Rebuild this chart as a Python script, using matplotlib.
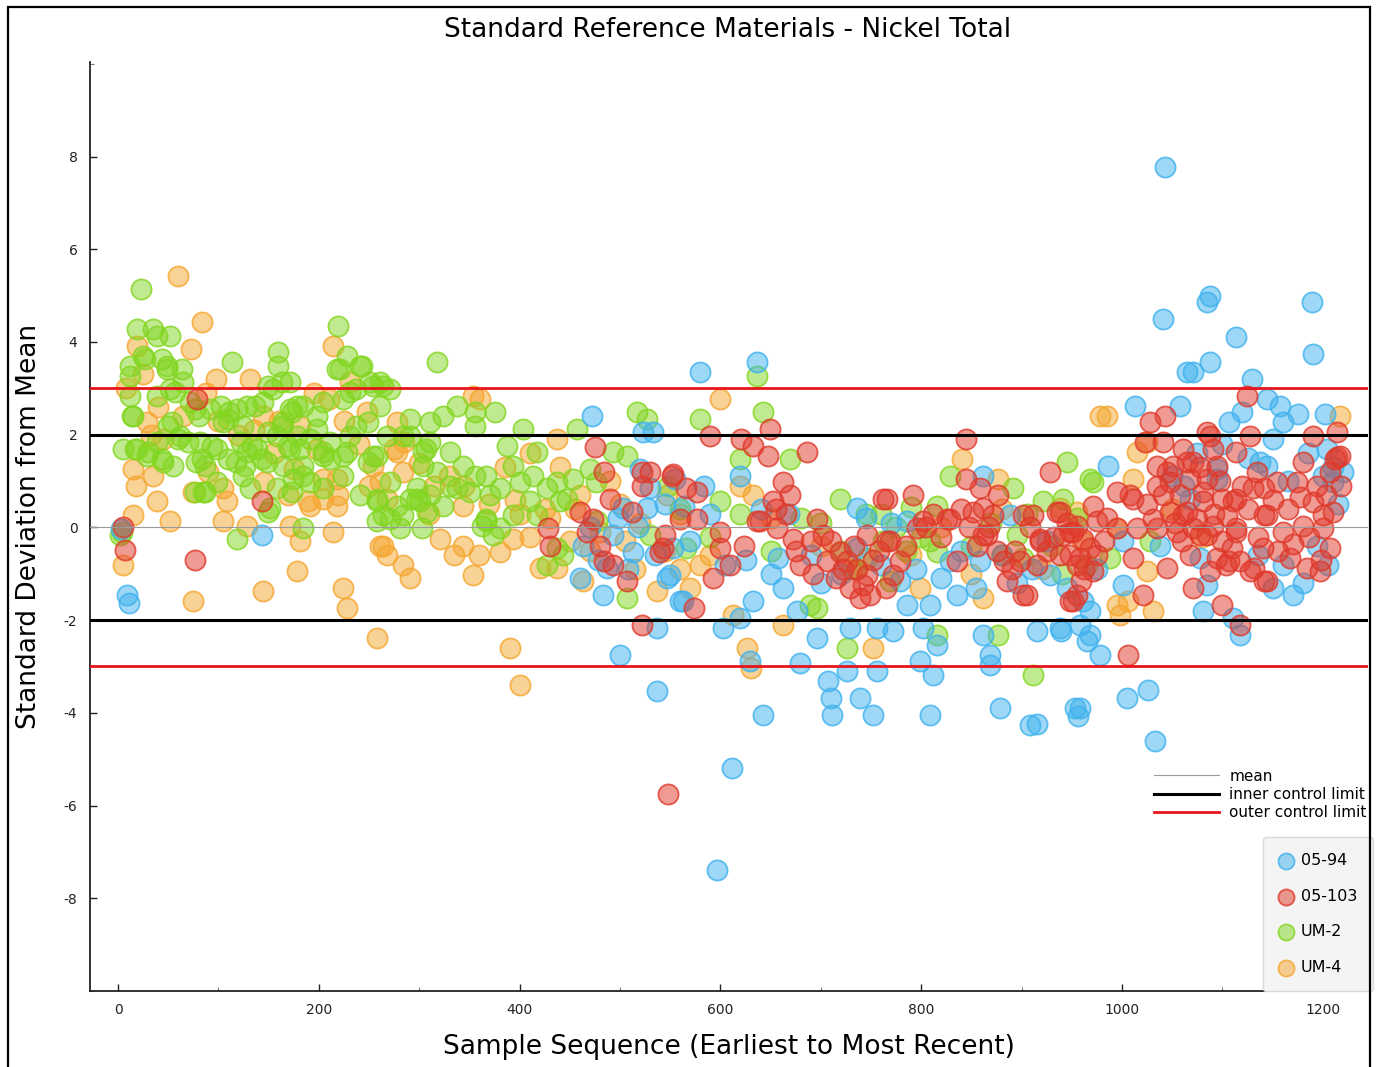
import numpy as np
import matplotlib
matplotlib.use("Agg")
import matplotlib.pyplot as plt
from matplotlib.patches import Rectangle
from matplotlib.colors import to_rgba

plt.rcParams["axes.unicode_minus"] = False

# ---------------------------------------------------------------------------
# Data: (sample sequence, standard deviations from mean) for each reference
# ---------------------------------------------------------------------------
series_names = ["05-94", "05-103", "UM-2", "UM-4"]

um2_points = [
    (23, 5.14), (19, 4.28), (35, 4.28), (52, 4.13), (12, 3.48), (27, 3.63), (44, 3.63), (49, 3.42),
    (64, 3.42), (12, 2.84), (39, 2.84), (57, 2.92), (14, 2.41), (50, 2.19), (17, 1.70), (30, 1.63),
    (44, 1.48), (60, 1.91), (70, 1.85), (84, 1.48), (87, 0.77), (77, 0.77), (114, 3.57), (159, 3.78),
    (159, 3.48), (163, 3.14), (149, 3.05), (119, 2.56), (136, 2.62), (110, 2.34), (124, 2.19),
    (133, 1.76), (149, 2.06), (163, 2.19), (173, 2.49), (169, 1.76), (94, 1.76), (110, 1.48),
    (126, 1.33), (143, 1.48), (124, 1.12), (87, 1.33), (149, 0.34), (119, -0.24), (4, -0.09),
    (173, 0.77), (103, 2.62), (77, 2.56),
    (219, 4.34), (228, 3.70), (218, 3.42), (241, 3.48), (318, 3.57), (231, 2.92), (251, 3.14),
    (264, 3.05), (178, 2.62), (171, 3.14), (198, 2.41), (237, 2.19), (291, 2.34), (324, 2.41),
    (338, 2.62), (356, 2.49), (356, 2.19), (181, 1.70), (204, 1.63), (228, 1.63), (258, 1.55),
    (184, 1.12), (241, 0.69), (311, 1.85), (331, 1.63), (344, 1.33), (356, 1.12), (298, 0.62),
    (311, 0.69), (271, 0.19), (284, 0.26), (258, 0.13), (184, -0.02), (363, 0.04), (338, 0.84),
    (375, 2.49), (403, 2.13), (387, 1.76), (417, 1.63), (457, 2.13), (517, 2.49), (527, 2.34),
    (367, 1.12), (380, 0.84), (400, 0.99), (410, 0.56), (437, 0.99), (447, 0.62), (470, 1.27),
    (493, 1.63), (507, 1.55), (367, 0.13), (380, -0.02), (427, -0.82), (507, -1.53), (437, -0.45),
    (477, 0.13), (530, -0.17),
    (636, 3.27), (580, 2.34), (642, 2.49), (620, 1.48), (566, -0.45), (600, 0.56),
    (669, 1.48), (719, 0.62), (696, -1.74), (726, -2.60), (816, 0.47), (809, -0.30), (829, 1.12),
    (891, 0.84), (945, 1.42), (968, 1.05), (921, 0.56), (876, -2.32), (911, -3.18), (762, -0.30),
    (746, -0.67), (769, -1.16), (816, -0.52), (895, -0.17), (901, -0.67), (689, -1.68), (816, -2.32),
    (971, 0.99), (941, 0.62), (988, -0.67), (1028, -0.30),
    (54, 2.28), (81, 2.41), (111, 2.49), (311, 2.28), (19, 1.70), (29, 1.55), (62, 1.98), (82, 1.85),
    (99, 1.70), (122, 1.85), (138, 1.70), (158, 1.98), (178, 1.98), (198, 2.13), (211, 1.85),
    (231, 1.98), (249, 2.28), (268, 1.98), (291, 1.98), (307, 1.70), (78, 1.42), (118, 1.42),
    (128, 1.63), (164, 1.33), (184, 1.33), (204, 1.55), (224, 1.55), (174, 1.05), (191, 0.99),
    (85, 0.77), (151, 0.41), (254, 1.55), (264, 0.26), (301, 0.56), (281, -0.02), (303, -0.02),
    (2, -0.17), (128, 2.62), (154, 2.99), (171, 2.56), (237, 2.99), (254, 3.05), (221, 3.42),
    (243, 3.48), (261, 3.14), (52, 2.99), (15, 2.41), (224, 2.77), (45, 1.42),
    (760, 0.30), (775, 0.00), (790, 0.45), (800, -0.20), (785, -0.50), (850, -0.40), (870, 0.10),
    (880, -0.60), (905, 0.30), (930, -0.40), (955, 0.20), (965, -0.80), (940, -1.00), (700, 0.10),
    (720, -0.50), (735, -0.90), (745, 0.30), (548, 0.90), (560, 0.40), (590, -0.20), (620, 0.30),
    (650, -0.50), (680, 0.20),
    (5, 1.70), (12, 3.27), (39, 4.13), (25, 3.70), (49, 3.48), (65, 3.14), (72, 2.71), (92, 2.56),
    (105, 2.28), (144, 2.71), (164, 2.28), (184, 2.62), (204, 2.71), (261, 2.62), (271, 2.99),
    (284, 1.98), (304, 1.33), (298, 0.84), (271, 0.99), (258, 0.56), (224, 1.12), (204, 0.84),
    (158, 0.84), (131, 0.84), (99, 0.99), (55, 1.33), (39, 1.85), (171, 1.70), (148, 1.42),
    (191, 1.91), (211, 1.48), (249, 1.42), (304, 1.63), (318, 1.20), (331, 0.90), (351, 0.77),
    (367, 0.19), (258, 0.62), (278, 0.47), (291, 0.62), (308, 0.34), (324, 0.47),
    (371, 0.69), (393, 1.33), (413, 1.12), (427, 0.84), (440, 0.56), (453, 1.05), (476, 0.99),
    (417, 0.26), (393, 0.26), (373, -0.17), (443, -0.60),
]

um4_points = [
    (60, 5.42), (84, 4.43), (19, 3.91), (73, 3.85), (214, 3.91), (98, 3.20), (131, 3.20), (29, 2.28),
    (144, 2.41), (210, 2.77), (248, 2.49), (278, 2.28), (275, 1.70), (284, 1.20), (254, 1.33),
    (15, 1.27), (35, 1.12), (18, 0.90), (39, 0.56), (15, 0.26), (52, 0.13), (75, 0.77), (105, 0.84),
    (109, 0.56), (105, 0.13), (145, 0.99), (169, 0.69), (189, 0.56), (204, 1.05), (219, 0.69),
    (214, -0.09), (181, -0.30), (5, -0.82), (75, -1.59), (144, -1.38), (178, -0.95), (224, -1.31),
    (228, -1.74), (258, -2.39), (264, -0.39), (268, -0.60), (284, -0.82), (291, -1.10), (128, 0.04),
    (261, 0.99), (198, 1.70),
    (231, 3.14), (218, 1.05), (204, 0.62), (191, 0.47), (218, 0.47), (268, 0.62), (171, 0.04),
    (261, -0.39), (321, -0.24), (344, -0.39), (360, -0.60), (354, -1.03), (344, 0.47), (181, 2.19),
    (354, 2.84), (278, 1.63),
    (361, 2.77), (437, 1.91), (393, -0.24), (380, -0.52), (450, -0.30), (420, -0.88), (437, -0.88),
    (463, -1.16), (537, -1.38), (390, -2.60), (400, -3.40), (547, 0.69),
    (600, 2.77), (570, -1.31), (580, -0.82), (613, -1.89), (626, -2.60), (630, -3.03), (632, 0.69),
    (841, 1.48), (876, 1.05), (662, -2.11), (752, -2.60), (799, -1.31), (862, -1.53), (978, 2.41),
    (938, 0.41),
    (985, 2.41), (1217, 2.41), (1015, 1.63), (1025, 1.85), (1011, 1.05), (995, -1.68), (998, -1.89),
    (1031, -1.81), (955, 0.34), (1006, -1.59), (1025, -0.95), (995, -0.02),
    (33, 2.00), (45, 1.90), (90, 1.20), (120, 2.00), (160, 2.30), (300, 1.40), (315, 0.90),
    (330, 1.10), (400, 0.30), (410, -0.20), (430, 0.20), (455, 0.40), (480, -0.10), (500, 0.50),
    (520, 0.10), (560, 0.30), (590, -0.60), (620, 0.90), (650, 0.20), (700, -0.40), (730, -0.90),
    (790, -0.60), (820, 0.00), (850, -1.00), (880, 0.40), (920, -0.90), (960, -0.30), (1050, 0.40),
    (1080, -0.20),
    (8, 3.00), (25, 3.30), (40, 2.60), (65, 2.40), (88, 2.90), (100, 2.30), (135, 2.10), (155, 1.60),
    (175, 1.25), (195, 2.90), (225, 2.30), (240, 1.80), (250, 0.90), (285, 1.85), (310, 0.30),
    (335, -0.60), (345, 0.90), (370, 0.50), (385, 1.30), (395, 0.60), (410, 1.60), (425, 0.40),
    (440, 1.30), (460, 0.70), (470, -0.50), (490, 1.00), (505, -0.30), (515, -0.90), (545, -0.50),
    (560, -0.90),
]

srm0594_points = [
    (9, -1.46), (11, -1.63), (143, -0.17), (3, -0.04),
    (472, 2.41), (523, 2.06), (533, 2.06), (503, 0.41), (527, 0.41), (493, -0.17), (463, -0.39),
    (513, -0.52), (460, -1.10), (483, -1.46), (487, -0.88), (547, -1.10), (537, -2.17), (500, -2.75),
    (537, -3.53), (560, -1.59),
    (580, 3.35), (636, 3.57), (620, 1.12), (584, 0.90), (564, 0.47), (553, -0.45), (550, -1.03),
    (563, -1.59), (632, -1.59), (603, -2.17), (620, -1.96), (629, -2.88), (642, -4.04), (612, -5.18),
    (597, -7.40), (530, 0.84), (520, 1.27), (555, 1.05),
    (736, 0.41), (657, -0.67), (662, -1.31), (676, -1.81), (696, -2.39), (679, -2.92), (707, -3.31),
    (710, -3.68), (711, -4.04), (726, -3.10), (729, -2.17), (739, -3.68), (756, -3.10), (752, -4.04),
    (756, -2.17), (772, -2.24), (786, -1.68), (809, -1.68), (802, -2.17), (816, -2.54), (799, -2.88),
    (812, -3.18), (809, -4.04), (836, -1.46), (829, -0.73), (859, -0.73), (855, -1.31), (862, -2.32),
    (869, -2.75), (869, -2.97), (878, -3.89), (915, -2.24), (939, -2.24), (958, -2.11), (965, -2.45),
    (958, -3.89), (908, -4.26), (915, -4.24), (953, -3.90), (956, -4.06), (928, -1.03), (961, -1.59),
    (862, 1.12), (786, 0.13), (736, -0.45), (779, -1.16), (888, 0.26),
    (1043, 7.78), (1041, 4.49), (1088, 4.99), (1085, 4.86), (1189, 4.86), (1114, 4.11), (1190, 3.74),
    (1088, 3.57), (1065, 3.35), (1071, 3.35), (1129, 3.20), (1144, 2.77), (1157, 2.62), (1175, 2.45),
    (1202, 2.45), (1013, 2.62), (1058, 2.62), (1107, 2.28), (1120, 2.49), (1160, 2.28), (986, 1.33),
    (1001, -0.30), (1038, -0.39), (1078, -0.67), (1170, -1.46), (1081, -1.81), (1111, -1.96),
    (1118, -2.32), (938, -2.17), (1144, 1.33), (1204, 1.70), (1210, 0.99), (1095, 1.27), (1068, 0.62),
    (1160, -0.82), (1194, -0.39), (1085, -1.24), (1001, -1.24), (968, -1.81), (968, -2.32),
    (978, -2.75), (1137, 1.42), (1095, 1.05), (1033, -4.60), (1026, -3.50), (1005, -3.68),
    (1210, 1.30), (1215, 0.50),
    (470, 0.00), (478, -0.70), (498, 0.20), (508, -0.90), (518, 0.00), (535, -0.60), (545, 0.50),
    (570, -0.30), (590, 0.30), (605, -0.80), (625, -0.70), (640, 0.40), (650, -1.00), (668, 0.30),
    (690, -0.60), (700, -1.20), (720, -1.00), (745, 0.20), (760, -0.80), (770, 0.10), (795, -0.90),
    (820, -1.10), (840, -0.50), (880, -0.60), (895, -1.20), (910, -0.90), (925, -0.30), (945, -1.30),
    (975, -0.90), (1050, 1.10), (1062, 0.90), (1075, 1.60), (1100, 1.80), (1125, 1.50), (1150, 1.90),
    (1165, 1.00), (1185, 1.60), (1200, 1.10), (1220, 1.20), (1135, -0.60), (1150, -1.30),
    (1180, -1.20), (1205, -0.80),
]

srm05103_points = [
    (79, 2.77), (5, 0.02), (7, -0.49), (77, -0.71), (143, 0.56),
    (475, 1.74), (484, 1.20), (490, 0.62), (512, 0.34), (460, 0.34), (473, 0.19), (428, -0.02),
    (430, -0.39), (467, -0.09), (480, -0.39), (484, -0.73), (493, -0.82), (507, -1.16), (522, 1.20),
    (530, 1.20), (522, 0.90), (545, -0.17), (540, -0.52), (552, 1.12), (522, -2.11), (548, -5.76),
    (590, 1.98), (621, 1.91), (647, 1.55), (553, 1.16), (566, 0.84), (577, 0.77), (543, -0.45),
    (560, 0.19), (577, 0.19), (600, -0.09), (600, -0.45), (593, -1.10), (610, -0.82), (623, -0.39),
    (636, 0.13), (632, 1.76), (574, -1.74),
    (649, 2.13), (686, 1.63), (662, 0.99), (669, 0.69), (652, 0.56), (639, 0.13), (656, -0.02),
    (672, -0.24), (679, -0.82), (696, 0.19), (702, -0.17), (706, -0.73), (719, -0.52), (726, -0.73),
    (729, -1.31), (739, -1.53), (746, -1.03), (746, -0.17), (762, 0.62), (792, 0.69), (769, -0.30),
    (779, -0.73), (772, -1.03), (796, -0.02), (802, 0.13), (829, 0.19), (836, -0.73), (845, 1.91),
    (845, 1.05), (859, 0.84), (876, 0.69), (862, 0.41), (862, -0.17), (882, -0.73), (885, -1.16),
    (901, -1.46), (898, -0.73), (911, 0.26), (918, -0.30), (928, 1.20), (935, 0.34), (941, -0.17),
    (948, -0.60), (959, -1.16), (948, -1.59), (971, 0.47), (968, -0.45), (955, 0.04), (749, -1.46),
    (766, 0.62), (826, 0.19), (852, 0.34), (871, 0.26), (901, 0.26), (938, 0.34), (766, -0.30),
    (866, -0.17), (918, -0.24), (938, -0.60), (951, -0.09), (905, -1.46), (951, -1.59), (955, -0.82),
    (1124, 2.84), (1028, 2.28), (1043, 2.41), (1085, 2.06), (1127, 1.98), (1190, 1.98), (1214, 2.06),
    (1214, 1.53), (1023, 1.85), (1041, 1.85), (1061, 1.70), (1091, 1.70), (1114, 1.63), (1071, 1.42),
    (1095, 1.33), (1035, 1.33), (1134, 1.20), (1180, 1.42), (1154, 0.99), (1174, 0.99), (1194, 0.90),
    (1207, 1.20), (1048, 0.99), (1068, 1.05), (1130, 0.84), (1100, 0.62), (1111, 0.56), (1081, 0.56),
    (1041, 0.69), (995, 0.77), (1011, 0.62), (1031, 0.19), (1061, 0.26), (1071, -0.02), (1144, 0.26),
    (1160, -0.09), (1180, 0.04), (1200, 0.26), (1210, 0.34), (1200, -0.02), (1015, -0.02),
    (995, -0.02), (975, 0.13), (948, -0.09), (971, -0.95), (1011, -0.67), (1021, -1.46), (1045, -0.88),
    (1085, -0.17), (1100, -0.30), (1114, -0.02), (1095, -0.67), (1107, -0.73), (1127, -0.95),
    (1140, -0.45), (1144, -1.16), (1167, -0.67), (1184, -0.88), (1197, -0.95), (1207, -0.45),
    (1071, -1.31), (1100, -1.68), (1118, -2.11),
    (1088, 1.98), (1065, 1.42), (1051, 1.33), (1058, 0.69), (1081, 0.77), (1114, 0.62), (1141, 0.84),
    (1141, 0.26), (1048, 0.34), (1065, 0.34), (1075, 0.19), (1091, 0.04), (1055, -0.09),
    (1078, -0.17), (1114, -0.09), (1088, -0.95), (1104, -0.82), (1118, -0.73), (1131, -0.88),
    (1141, -1.16), (1006, -2.75), (1008, 0.69), (982, -0.30), (961, -0.24), (958, -0.67),
    (955, -1.46), (1035, -0.02), (1217, 1.55), (1212, 1.48),
    (655, 0.40), (665, 0.30), (675, -0.50), (690, -0.30), (692, -1.00), (710, -0.30), (715, -1.10),
    (722, -0.90), (733, -0.40), (736, -0.90), (742, -1.25), (752, -0.70), (758, -0.50), (765, -1.30),
    (785, -0.40), (805, 0.00), (812, 0.30), (820, -0.20), (840, 0.40), (848, 0.00), (856, -0.40),
    (868, 0.00), (875, -0.50), (890, -0.90), (893, -0.50), (908, 0.00), (915, -0.80), (925, -0.50),
    (932, -0.20), (945, 0.10), (962, -0.90), (975, -0.60), (985, 0.20),
    (1025, 0.50), (1035, 0.90), (1045, 1.20), (1053, 0.10), (1060, -0.30), (1068, -0.60),
    (1078, 1.30), (1085, 1.05), (1092, 0.30), (1098, 1.00), (1105, 0.25), (1110, -0.45), (1120, 0.90),
    (1125, 0.40), (1135, -0.20), (1150, 0.60), (1155, -0.50), (1165, 0.40), (1170, -0.35),
    (1177, 0.65), (1186, -0.20), (1190, 0.55), (1198, -0.70), (1203, 0.70), (1218, 0.90),
]

# control chart reference levels (in standard deviations)
mean_level = 0
inner_limit = 2
outer_limit = 3

x_ticks = [0, 200, 400, 600, 800, 1000, 1200]
y_ticks = [-8, -6, -4, -2, 0, 2, 4, 6, 8]

series_points = {
    "05-94": srm0594_points,
    "05-103": srm05103_points,
    "UM-2": um2_points,
    "UM-4": um4_points,
}
series_colors = {
    "05-94": "#3fb2ee",
    "05-103": "#e0392b",
    "UM-2": "#82d620",
    "UM-4": "#f5a62e",
}

# ---------------------------------------------------------------------------
W, H, DPI = 1384, 1067, 100
fig = plt.figure(figsize=(W / DPI, H / DPI), dpi=DPI)
fig.patch.set_facecolor("white")

ax = fig.add_axes([90 / W, 1 - 991 / H, (1368 - 90) / W, (991 - 62) / H])
ax.set_xlim(-27.9, 1245)
ax.set_ylim(-9.935, 10.04)

handles = {}
for name in ["UM-4", "UM-2", "05-94", "05-103"]:
    pts = np.array(series_points[name])
    c = series_colors[name]
    handles[name] = ax.scatter(
        pts[:, 0], pts[:, 1], s=210,
        facecolors=[to_rgba(c, 0.5)], edgecolors=[to_rgba(c, 0.8)],
        linewidths=1.3, zorder=2, label=name,
    )

mean_line = ax.axhline(mean_level, color="#9a9a9a", lw=0.8, zorder=3, label="mean")
inner_line = ax.axhline(inner_limit, color="black", lw=2.2, zorder=3, label="inner control limit")
ax.axhline(-inner_limit, color="black", lw=2.2, zorder=3)
outer_line = ax.axhline(outer_limit, color="#e8141b", lw=2.0, zorder=3, label="outer control limit")
ax.axhline(-outer_limit, color="#e8141b", lw=2.0, zorder=3)

# axes styling: only left and bottom spines, inward ticks
for side in ["top", "right"]:
    ax.spines[side].set_visible(False)
for side in ["left", "bottom"]:
    ax.spines[side].set_linewidth(1.3)
    ax.spines[side].set_color("#222222")

ax.set_xticks(x_ticks)
ax.set_xticks([100, 300, 500, 700, 900, 1100], minor=True)
ax.set_yticks(y_ticks)
ax.set_yticks([-10, 10], minor=True)
ax.tick_params(axis="both", which="major", direction="in", length=5, width=1,
               labelsize=10, colors="#222222", pad=9)
ax.tick_params(axis="both", which="minor", direction="in", length=3, width=0.8, colors="#777777")
ax.tick_params(axis="y", pad=9)

ax.set_xlabel("Sample Sequence (Earliest to Most Recent)", fontsize=19, labelpad=12)
ax.set_ylabel("Standard Deviation from Mean", fontsize=19, labelpad=16)
fig.text(728 / W, 1 - 30 / H, "Standard Reference Materials - Nickel Total",
         ha="center", va="center", fontsize=19)

# legend for reference lines
leg1 = ax.legend(handles=[mean_line, inner_line, outer_line], loc="upper left",
                 bbox_to_anchor=(1143 / W, 1 - 758 / H), bbox_transform=fig.transFigure,
                 frameon=False, fontsize=11, handlelength=4.3, handletextpad=0.65,
                 labelspacing=0.22, borderpad=0.2)
ax.add_artist(leg1)

# legend for the reference materials
leg2 = ax.legend(handles=[handles[n] for n in series_names], loc="upper left",
                 bbox_to_anchor=(1263 / W, 1 - 837 / H), bbox_transform=fig.transFigure,
                 frameon=True, fancybox=True, fontsize=11.5, markerscale=0.8,
                 handlelength=0.9, handletextpad=0.45, labelspacing=1.3,
                 borderpad=1.0, borderaxespad=0)
leg2.get_frame().set_facecolor("#f4f4f4")
leg2.get_frame().set_edgecolor("#d9d9d9")
leg2.get_frame().set_alpha(1)
leg2.set_zorder(5)

# outer frame around the figure
fig.patches.append(Rectangle((8 / W, -0.02), (1370 - 8) / W, 1.02 - 7 / H,
                             transform=fig.transFigure, fill=False,
                             edgecolor="black", lw=1.6, zorder=10))

fig.savefig("out.png", dpi=DPI)
